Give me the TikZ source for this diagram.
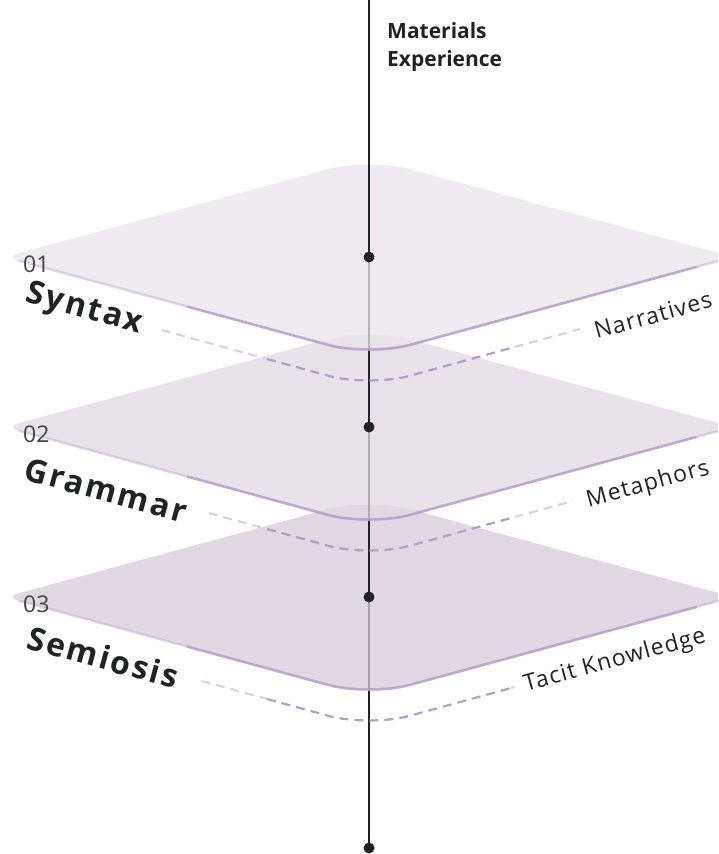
\documentclass[tikz,border=0pt]{standalone}
\usepackage{fontspec}
\setmainfont{Open Sans}
\newfontfamily\namefont[LetterSpace=7]{Open Sans}
\newfontfamily\facetfont[LetterSpace=5]{Open Sans}
\usetikzlibrary{calc}

\definecolor{ink}{HTML}{1D2421}
\definecolor{planeA}{HTML}{EAE4EC}
\definecolor{planeB}{HTML}{E2D8E3}
\definecolor{planeC}{HTML}{D8CBDA}
\definecolor{rim}{HTML}{B49DCA}
\definecolor{rimlight}{HTML}{DDD1E6}

% one layer: #1 centre y, #2 fill, #3/#4 where the dashed shadow starts/ends
\newcommand{\layer}[4]{
    \path (5,#1) coordinate (L) (369,#1-99) coordinate (T)
          (733,#1) coordinate (R) (369,#1+99) coordinate (B);
    \path (5,#1+30) coordinate (Ls) (369,#1+130) coordinate (Bs) (733,#1+30) coordinate (Rs);
    \fill [#2, fill opacity=0.75] ($(L)!14pt!(T)$) -- ($(T)!42pt!(L)$)
        .. controls ($(T)!19pt!(L)$) and ($(T)!19pt!(R)$) .. ($(T)!42pt!(R)$)
        -- ($(R)!14pt!(T)$) .. controls ($(R)!6pt!(T)$) and ($(R)!6pt!(B)$) .. ($(R)!14pt!(B)$)
        -- ($(B)!42pt!(R)$) .. controls ($(B)!19pt!(R)$) and ($(B)!19pt!(L)$) .. ($(B)!42pt!(L)$)
        -- ($(L)!14pt!(B)$) .. controls ($(L)!6pt!(B)$) and ($(L)!6pt!(T)$) .. cycle;
    % rim along the front edges
    \draw [rim, line width=2.5pt, opacity=0.4] ($(L)!14pt!(B)$) -- ($(B)!42pt!(L)$)
        .. controls ($(B)!19pt!(L)$) and ($(B)!19pt!(R)$) .. ($(B)!42pt!(R)$) -- ($(R)!14pt!(B)$);
    \draw [rim, line width=2.5pt, opacity=0.75] ($(L)!0.5!(B)$) -- ($(B)!42pt!(L)$)
        .. controls ($(B)!19pt!(L)$) and ($(B)!19pt!(R)$) .. ($(B)!42pt!(R)$) -- ($(B)!0.9!(R)$);
    % dashed shadow
    \draw [shadow, rimlight] ($(Ls)!#3!(Bs)$) -- ($(Ls)!0.72!(Bs)$);
    \draw [shadow, rim] ($(Ls)!0.72!(Bs)$) -- ($(Bs)!42pt!(Ls)$)
        .. controls ($(Bs)!19pt!(Ls)$) and ($(Bs)!19pt!(Rs)$) .. ($(Bs)!42pt!(Rs)$) -- ($(Bs)!0.4!(Rs)$);
    \draw [shadow, rimlight] ($(Bs)!0.4!(Rs)$) -- ($(Bs)!#4!(Rs)$);
}

\begin{document}
\begin{tikzpicture}[x=1pt, y=-1pt,
        axis/.style={ink, line width=2pt},
        dot/.style={circle, fill=ink, inner sep=0, minimum size=11pt},
        shadow/.style={line width=2.2pt, dash pattern=on 9pt off 6pt},
        layerno/.style={font=\fontsize{23}{26}\selectfont, text=ink!85, inner sep=0, anchor=base west},
        layername/.style={font=\namefont\bfseries\fontsize{32}{36}\selectfont, text=ink, inner sep=0, rotate=-15.3},
        facet/.style={font=\facetfont\fontsize{23}{26}\selectfont, text=ink, inner sep=0, rotate=15.3}]
    \useasboundingbox (0,0) rectangle (718,854);
    \clip (0,0) rectangle (718,854);

    \coordinate (top) at (369,0);
    \coordinate (c1) at (369,257);
    \coordinate (c2) at (369,427);
    \coordinate (c3) at (369,597);
    \coordinate (c4) at (369,848);

    \draw [axis] (c3) -- (c4);
    \layer{597}{planeC}{0.54}{0.39}
    \draw [axis] (c2) -- (c3);
    \layer{427}{planeB}{0.56}{0.56}
    \draw [axis] (c1) -- (c2);
    \layer{257}{planeA}{0.43}{0.58}
    \draw [axis] (top) -- (c1);

    \node [dot] (p1) at (c1) {};
    \node [dot] (p2) at (c2) {};
    \node [dot] (p3) at (c3) {};
    \node [dot] (p4) at (c4) {};

    \node [font=\bfseries\fontsize{21}{28}\selectfont, text=ink, align=left, anchor=north west, inner sep=0]
        (axisname) at (387,22) {Materials\\Experience};

    \node [layerno] (no1) at (23,272) {01};
    \node [layerno] (no2) at (23,442) {02};
    \node [layerno] (no3) at (23,612) {03};

    \node [layername] (syntax) at (84,310) {Syntax};
    \node [layername] (grammar) at (106,490) {Grammar};
    \node [layername] (semiosis) at (103,657) {Semiosis};

    \node [facet] (narratives) at (653,315) {Narratives};
    \node [facet] (metaphors) at (648,485) {Metaphors};
    \node [facet] (tacit) at (615,661) {Tacit Knowledge};
\end{tikzpicture}
\end{document}
